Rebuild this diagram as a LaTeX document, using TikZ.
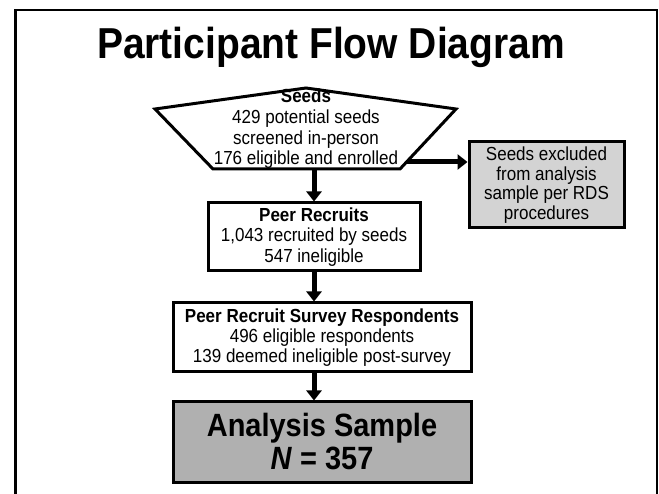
\documentclass[tikz,border=0pt]{standalone}
\usepackage{fontspec}
\setmainfont[FakeStretch=0.9]{Liberation Sans}
\usetikzlibrary{positioning,arrows.meta,calc}

\begin{document}
\begin{tikzpicture}[x=1pt,y=-1pt,
  flowbox/.style={draw, line width=3pt, align=center, inner sep=0pt, font=\fontsize{18.9}{20.3}\selectfont},
  flowarrow/.style={-{Triangle[length=10pt,width=15pt]}, line width=5pt}]
  \definecolor{exclgray}{HTML}{D3D3D3}
  \definecolor{samplegray}{HTML}{B0B0B0}

  \useasboundingbox (0,0) rectangle (659,494);
  \draw[line width=2.5pt] (15.5,494) -- (15.5,10) -- (657,10) -- (657,494);

  \node[font=\bfseries\fontsize{43.3}{48}\selectfont, anchor=base] (title) at (331,59) {Participant Flow Diagram};

  % seeds pentagon
  \coordinate (ptop) at (306,88);
  \coordinate (pleft) at (155,109);
  \coordinate (pright) at (456,109);
  \coordinate (pbotleft) at (213,169);
  \coordinate (pbotright) at (400,169);
  \draw[line width=3pt] (ptop) -- (pleft) -- (pbotleft) -- (pbotright) -- (pright) -- cycle;
  \node[align=center, inner sep=0pt, font=\fontsize{18.9}{20.7}\selectfont] (seeds) at (306,129)
    {\textbf{Seeds}\\429 potential seeds\\screened in-person\\176 eligible and enrolled};
  \coordinate (seedsbot) at (314,169);
  \coordinate (seedsout) at (407,162);

  \node[flowbox, fill=exclgray, minimum width=155, minimum height=86, font=\fontsize{18.9}{19.5}\selectfont] (excl) at (546.5,185)
    {Seeds excluded\\from analysis\\sample per RDS\\procedures};
  \node[flowbox, minimum width=212, minimum height=68] (peer) at (314,237)
    {\textbf{Peer Recruits}\\1,043 recruited by seeds\\547 ineligible};
  \node[flowbox, minimum width=298, minimum height=69] (survey) at (322,337.5)
    {\textbf{Peer Recruit Survey Respondents}\\496 eligible respondents\\139 deemed ineligible post-survey};
  \node[flowbox, fill=samplegray, minimum width=298, minimum height=80, font=\bfseries\fontsize{32.2}{33}\selectfont] (sample) at (322,442)
    {Analysis Sample\\\textit{N} = 357};

  \draw[flowarrow] (seedsout) -- (seedsout -| excl.west);
  \draw[flowarrow] (seedsbot) -- (peer.north);
  \draw[flowarrow] (peer.south) -- (peer.south |- survey.north);
  \draw[flowarrow] (peer.south |- survey.south) -- (peer.south |- sample.north);
\end{tikzpicture}
\end{document}
